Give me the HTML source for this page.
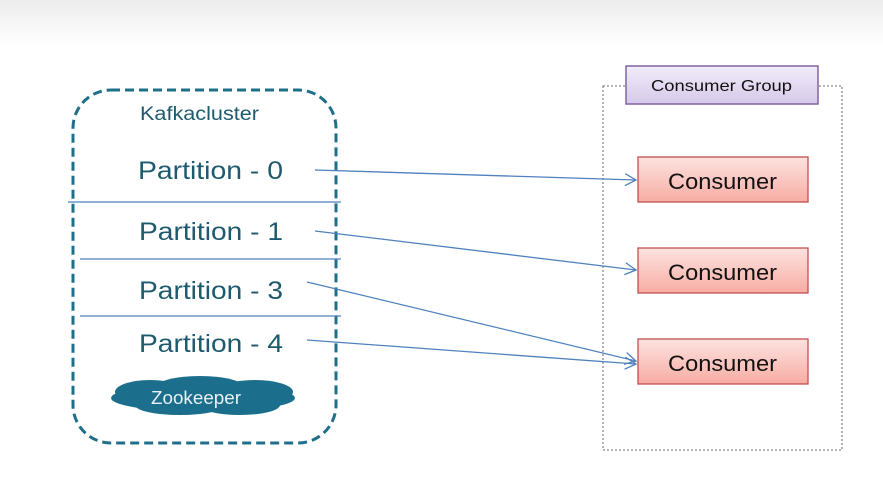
<!DOCTYPE html>
<html><head><style>
body{margin:0;width:883px;height:481px;overflow:hidden;background:#fff;}
</style></head><body>
<svg width="883" height="481" xmlns="http://www.w3.org/2000/svg" font-family="Liberation Sans, DejaVu Sans, sans-serif">
<defs>
<linearGradient id="top" x1="0" y1="0" x2="0" y2="1"><stop offset="0" stop-color="#ececec"/><stop offset="1" stop-color="#ffffff"/></linearGradient>
<linearGradient id="cg" x1="0" y1="0" x2="0" y2="1"><stop offset="0" stop-color="#f1ecf8"/><stop offset="1" stop-color="#d6c9ea"/></linearGradient>
<linearGradient id="cs" x1="0" y1="0" x2="0" y2="1"><stop offset="0" stop-color="#fde3e0"/><stop offset="1" stop-color="#f7aca3"/></linearGradient>
<marker id="ah" markerWidth="14" markerHeight="14" refX="12" refY="7" orient="auto" markerUnits="userSpaceOnUse"><path d="M1,1 L12,7 L1,13" fill="none" stroke="#4f81bd" stroke-width="1.3"/></marker>
</defs>
<rect x="0" y="0" width="883" height="45" fill="url(#top)"/>
<rect x="73" y="90" width="263" height="353" rx="38" fill="none" stroke="#1f6f8b" stroke-width="3" stroke-dasharray="9,5"/>
<g stroke="#4f81bd" stroke-width="1.3">
<line x1="68" y1="202" x2="341" y2="202"/>
<line x1="80" y1="259" x2="341" y2="259"/>
<line x1="80" y1="316" x2="341" y2="316"/>
</g>
<text x="140" y="120" font-size="19" fill="#1e5a6e" textLength="119" lengthAdjust="spacingAndGlyphs">Kafkacluster</text>
<g font-size="25" fill="#1e5a6e">
<text x="138" y="179" textLength="145" lengthAdjust="spacingAndGlyphs">Partition - 0</text>
<text x="139" y="240" textLength="144" lengthAdjust="spacingAndGlyphs">Partition - 1</text>
<text x="139" y="299" textLength="144" lengthAdjust="spacingAndGlyphs">Partition - 3</text>
<text x="139" y="352" textLength="144" lengthAdjust="spacingAndGlyphs">Partition - 4</text>
</g>
<g fill="#1c6f8c">
<ellipse cx="203" cy="398" rx="92" ry="14"/>
<ellipse cx="150" cy="392" rx="35" ry="12"/>
<ellipse cx="200" cy="388" rx="45" ry="12"/>
<ellipse cx="255" cy="392" rx="38" ry="12"/>
<ellipse cx="180" cy="405" rx="45" ry="10"/>
<ellipse cx="240" cy="405" rx="40" ry="10"/>
</g>
<text x="151" y="404" font-size="18" fill="#e8f2f6" textLength="90" lengthAdjust="spacingAndGlyphs">Zookeeper</text>
<rect x="603" y="86" width="239" height="364" fill="none" stroke="#888" stroke-width="1.3" stroke-dasharray="2,2"/>
<rect x="626" y="66" width="192" height="38" fill="url(#cg)" stroke="#8064a2" stroke-width="1.5"/>
<text x="651" y="91" font-size="16" fill="#111" textLength="141" lengthAdjust="spacingAndGlyphs">Consumer Group</text>
<g stroke="#c0504d" stroke-width="1.3" fill="url(#cs)">
<rect x="638" y="157" width="170" height="45"/>
<rect x="638" y="248" width="170" height="45"/>
<rect x="638" y="339" width="170" height="45"/>
</g>
<g font-size="22" fill="#111">
<text x="668" y="189" textLength="109" lengthAdjust="spacingAndGlyphs">Consumer</text>
<text x="668" y="280" textLength="109" lengthAdjust="spacingAndGlyphs">Consumer</text>
<text x="668" y="371" textLength="109" lengthAdjust="spacingAndGlyphs">Consumer</text>
</g>
<g stroke="#4f81bd" stroke-width="1.3" marker-end="url(#ah)">
<line x1="315" y1="170" x2="636" y2="180"/>
<line x1="315" y1="231" x2="636" y2="270"/>
<line x1="307" y1="282" x2="636" y2="361"/>
<line x1="307" y1="340" x2="636" y2="364"/>
</g>
</svg>
</body></html>
